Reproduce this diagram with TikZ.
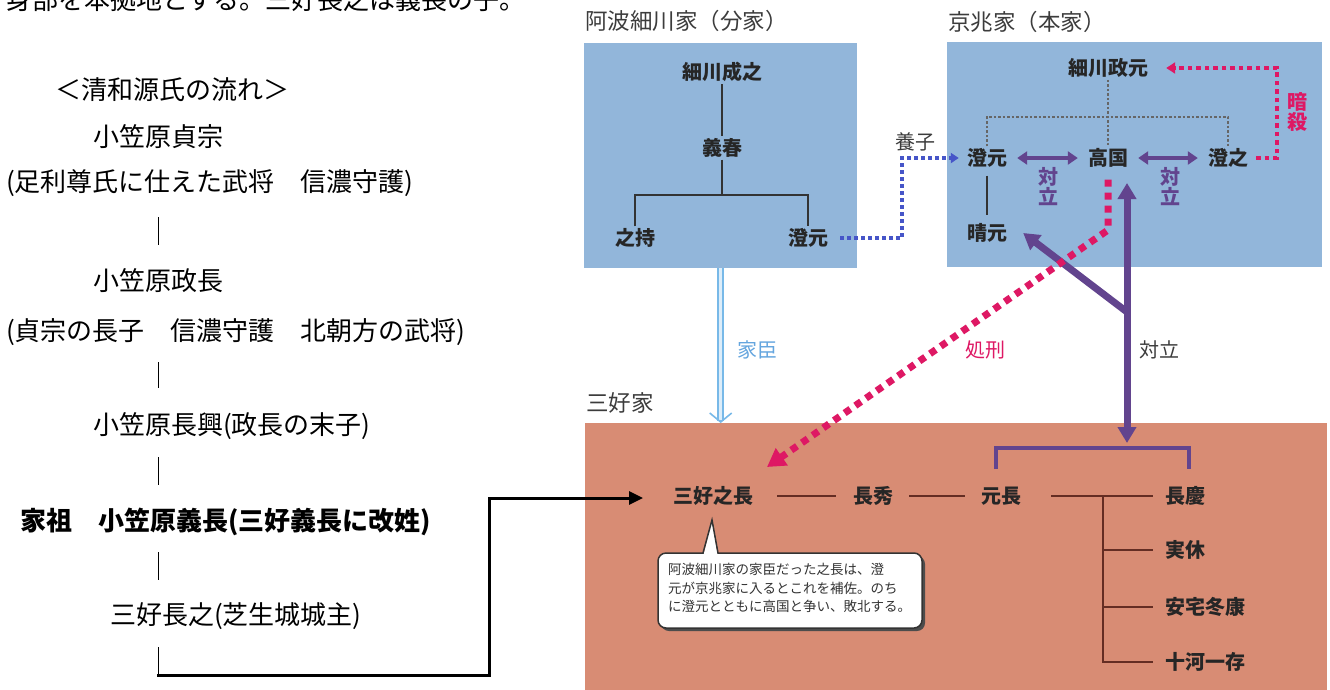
\documentclass[tikz,border=0pt]{standalone}
\usepackage{fontspec}
\setmainfont{Noto Sans CJK JP}
\usetikzlibrary{arrows.meta}
\definecolor{boxblue}{RGB}{146,182,218}
\definecolor{boxsalmon}{RGB}{216,140,116}
\definecolor{pinkc}{RGB}{222,24,100}
\definecolor{purplec}{RGB}{98,68,142}
\definecolor{dotblue}{RGB}{70,85,200}
\definecolor{kashin}{RGB}{120,185,232}
\definecolor{kashintext}{RGB}{100,165,222}
\definecolor{titlec}{RGB}{60,60,60}
\definecolor{brownl}{RGB}{100,45,35}
\begin{document}
\begin{tikzpicture}[x=1pt,y=-1pt,
  lt/.style={font=\fontsize{26}{30}\selectfont, inner sep=0pt, anchor=west},
  ltb/.style={lt, font=\bfseries\fontsize{26}{30}\selectfont},
  bar/.style={line width=0.8pt, black},
  ttl/.style={font=\fontsize{22.5}{26}\selectfont, text=titlec, anchor=west, inner sep=0pt},
  nm/.style={font=\bfseries\fontsize{20}{22}\selectfont, text=black!85, inner sep=2pt},
  vlab/.style={font=\bfseries\fontsize{20}{20}\selectfont, align=center, inner sep=0pt},
  lab/.style={font=\fontsize{20}{22}\selectfont, inner sep=1pt},
  tree/.style={line width=1.3pt, black!80},
  gdot/.style={line width=1.2pt, black!60, dash pattern=on 2.5pt off 2pt},
  brl/.style={line width=1.5pt, brownl},
  pdbl/.style={line width=4pt, purplec, {Triangle[length=10pt,width=13pt]}-{Triangle[length=10pt,width=13pt]}},
  pbig/.style={line width=7pt, purplec},
  pbr/.style={line width=4pt, purplec},
  pinksm/.style={line width=4.5pt, pinkc, dash pattern=on 4.5pt off 4pt},
  pinkbig/.style={line width=7pt, pinkc, dash pattern=on 7pt off 6pt},
  bdot/.style={line width=4pt, dotblue, dash pattern=on 4pt off 3pt},
  callt/.style={font=\fontsize{13.5}{18.5}\selectfont, text=black!80, align=left, inner sep=0pt}
]
\useasboundingbox (0,0) rectangle (1330,689);

% top clipped line
\begin{scope}
  \clip (0,0) rectangle (560,14);
  \node[lt, anchor=base west] (top) at (6,9) {身部を本拠地とする。三好長之は義長の子。};
\end{scope}

% left genealogy
\node[lt] (l0) at (55,90) {＜清和源氏の流れ＞};
\node[lt] (l1) at (93,137) {小笠原貞宗};
\node[lt] (l2) at (6,183) {(足利尊氏に仕えた武将　信濃守護)};
\node[lt] (l3) at (93,281) {小笠原政長};
\node[lt] (l4) at (6,332) {(貞宗の長子　信濃守護　北朝方の武将)};
\node[lt] (l5) at (93,426) {小笠原長興(政長の末子)};
\node[ltb] (l6) at (20,522) {家祖　小笠原義長(三好義長に改姓)};
\node[lt] (l7) at (110,616) {三好長之(芝生城城主)};
\draw[bar] (158,217) -- (158,245);
\draw[bar] (158,362) -- (158,388);
\draw[bar] (158,457) -- (158,485);
\draw[bar] (158,552) -- (158,580);

% boxes
\node[fill=boxblue, anchor=north west, minimum width=273pt, minimum height=225pt, inner sep=0pt] (box1) at (584,43) {};
\node[fill=boxblue, anchor=north west, minimum width=375pt, minimum height=225pt, inner sep=0pt] (box2) at (947,42) {};
\node[fill=boxsalmon, anchor=north west, minimum width=742pt, minimum height=270pt, inner sep=0pt] (box3) at (585,423) {};

\node[ttl] (t1) at (585,21) {阿波細川家（分家）};
\node[ttl] (t2) at (948,22) {京兆家（本家）};
\node[ttl] (t3) at (586,403) {三好家};

% 阿波細川家
\node[nm] (n1) at (722,72) {細川成之};
\node[nm] (n2) at (722,148) {義春};
\node[nm] (n3) at (635,238) {之持};
\node[nm] (n4) at (808,238) {澄元};
\coordinate (j1) at (722,195);
\draw[tree] (n1) -- (n2);
\draw[tree] (n2) -- (j1);
\draw[tree] (n3) |- (j1) -| (n4);

% 京兆家
\node[nm] (m1) at (1108,68) {細川政元};
\node[nm] (m2) at (987,158) {澄元};
\node[nm] (m3) at (1108,158) {高国};
\node[nm] (m4) at (1228,158) {澄之};
\node[nm] (m5) at (987,233) {晴元};
\coordinate (j2) at (1108,117);
\draw[gdot] (m1) -- (m3);
\draw[gdot] (m2) |- (j2) -| (m4);
\draw[tree, shorten <=6pt, shorten >=6pt] (m2) -- (m5);
\draw[pdbl] ([xshift=8pt]m2.east) -- ([xshift=-8pt]m3.west);
\draw[pdbl] ([xshift=8pt]m3.east) -- ([xshift=-8pt]m4.west);
\node[vlab, text=purplec] (tai1) at (1048,187) {対\\立};
\node[vlab, text=purplec] (tai2) at (1170,187) {対\\立};

% 暗殺
\coordinate (ak) at (1277,0);
\draw[pinksm, -{Triangle[length=9pt,width=11pt]}] ([xshift=6pt]m4.east) -- (ak |- m4.east) -- (ak |- m1.east) -- ([xshift=16pt]m1.east);
\node[vlab, text=pinkc] (ansatsu) at (1297,112) {暗\\殺};

% 養子
\coordinate (yz) at (902,0);
\draw[bdot, -{Triangle[length=8pt,width=10pt]}] ([xshift=10pt]n4.east) -- (yz |- n4.east) -- (yz |- m2.west) -- ([xshift=-6pt]m2.west);
\node[lab, text=titlec] (yoshi) at (915,142) {養子};

% 家臣 (hollow light-blue arrow)
\coordinate (kb) at (box1.south);
\coordinate (kt) at (box1.south |- box3.north);
\draw[kashin, line width=6.5pt] (kb) -- ([yshift=2pt]kt);
\draw[white!75!kashin, line width=3.5pt] (kb) -- ([yshift=3pt]kt);
\draw[kashin, line width=1.6pt, line join=miter] ([xshift=-11pt,yshift=10pt]kt) -- ([yshift=1pt]kt) -- ([xshift=11pt,yshift=10pt]kt);
\node[lab, text=kashintext] (kashinlab) at (757,350) {家臣};

% 三好家
\node[nm] (k1) at (713,496) {三好之長};
\node[nm] (k2) at (873,496) {長秀};
\node[nm] (k3) at (1001,496) {元長};
\node[nm, anchor=west] (k4) at (1163,496) {長慶};
\node[nm, anchor=west] (k5) at (1163,550) {実休};
\node[nm, anchor=west] (k6) at (1163,607) {安宅冬康};
\node[nm, anchor=west] (k7) at (1163,662) {十河一存};
\coordinate (kj) at (1103,496);
\draw[brl] ([xshift=22pt]k1.east) -- ([xshift=-15pt]k2.west);
\draw[brl] ([xshift=14pt]k2.east) -- ([xshift=-14pt]k3.west);
\draw[brl] ([xshift=28pt]k3.east) -- ([xshift=-10pt]k4.west);
\draw[brl] (kj) |- ([xshift=-10pt]k7.west);
\draw[brl] (kj |- k5.west) -- ([xshift=-10pt]k5.west);
\draw[brl] (kj |- k6.west) -- ([xshift=-10pt]k6.west);

% purple 対立
\coordinate (ptop) at (1127,183);
\coordinate (pbot) at (1127,443);
\coordinate (pj) at (1127,312);
\draw[pbig, {Triangle[length=16pt,width=18pt]}-{Triangle[length=16pt,width=18pt]}] (ptop) -- (pbot);
\draw[pbig, -{Triangle[length=16pt,width=18pt]}] (pj) -- ([xshift=14pt]m5.east);
\draw[pbr] (996,469) -- (996,448) -- (1189,448) -- (1189,469);
\node[lab, text=titlec] (tairitsu) at (1159,350) {対立};

% 処刑
\coordinate (sb) at (1108,230);
\coordinate (sk) at (767,467);
\draw[pinkbig, -{Triangle[length=18pt,width=20pt]}] ([yshift=-10pt]m3.south) -- (sb) -- (sk);
\node[lab, text=pinkc] (shokei) at (985,350) {処刑};

% callout
\coordinate (ptip) at (712,520);
\fill[black!70, rounded corners=8pt] (661,556) rectangle (925,631);
\draw[black!80, line width=1.5pt, fill=white, rounded corners=8pt] (658,553) rectangle (922,628);
\fill[white] (703.5,555) -- (ptip) -- (717.5,555) -- cycle;
\draw[black!80, line width=1.5pt, line join=miter] (703,553) -- (ptip) -- (718,553);
\node[callt, anchor=north west] (ct) at (668,563) {阿波細川家の家臣だった之長は、澄\\元が京兆家に入るとこれを補佐。のち\\に澄元とともに高国と争い、敗北する。};

% left black arrow
\coordinate (a0) at (158,647);
\coordinate (a1) at (158,675);
\coordinate (a2) at (489,675);
\coordinate (a3) at (489,498);
\coordinate (a4) at (643,498);
\draw[bar] (a0) -- (a1);
\draw[line width=3pt, line join=miter, -{Triangle[length=14pt,width=13pt]}] ([xshift=-1pt]a1) -- (a2) -- (a3) -- (a4);
\end{tikzpicture}
\end{document}
